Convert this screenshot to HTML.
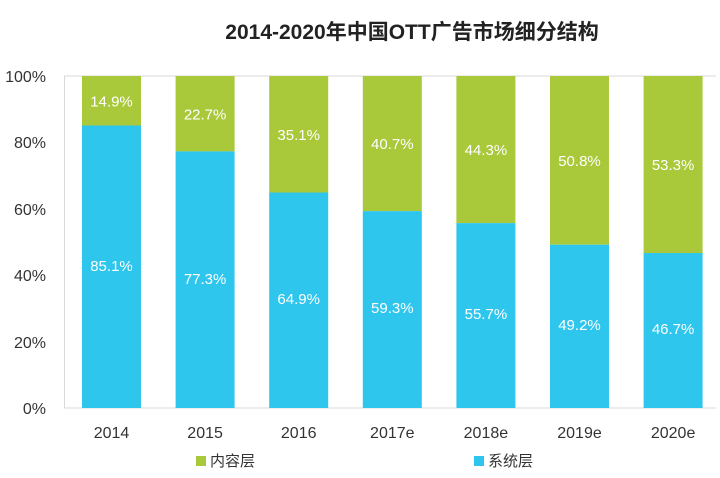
<!DOCTYPE html>
<html><head><meta charset="utf-8"><style>
body{margin:0;background:#fff;}
svg{display:block;font-family:"Liberation Sans","Noto Sans CJK SC",sans-serif;}
</style></head><body>
<svg width="720" height="478" viewBox="0 0 720 478">
<text x="412" y="39" text-anchor="middle" font-size="21" font-weight="bold" fill="#222">2014-2020年中国OTT广告市场细分结构</text>
<line x1="64" y1="76" x2="716" y2="76" stroke="#d9d9d9"/>
<line x1="64" y1="408" x2="716" y2="408" stroke="#d9d9d9"/>
<line x1="64.5" y1="76" x2="64.5" y2="408" stroke="#d9d9d9"/>
<g font-size="16" fill="#333" text-anchor="end">
<text x="46" y="82">100%</text><text x="46" y="148">80%</text><text x="46" y="215">60%</text>
<text x="46" y="281">40%</text><text x="46" y="348">20%</text><text x="46" y="414">0%</text>
</g>
<g>
<rect x="82" y="76" width="59" height="49.5" fill="#a9c83a"/><rect x="82" y="125.5" width="59" height="282.5" fill="#2fc6ee"/>
<rect x="175.6" y="76" width="59" height="75.4" fill="#a9c83a"/><rect x="175.6" y="151.4" width="59" height="256.6" fill="#2fc6ee"/>
<rect x="269.2" y="76" width="59" height="116.5" fill="#a9c83a"/><rect x="269.2" y="192.5" width="59" height="215.5" fill="#2fc6ee"/>
<rect x="362.8" y="76" width="59" height="135.1" fill="#a9c83a"/><rect x="362.8" y="211.1" width="59" height="196.9" fill="#2fc6ee"/>
<rect x="456.4" y="76" width="59" height="147.1" fill="#a9c83a"/><rect x="456.4" y="223.1" width="59" height="184.9" fill="#2fc6ee"/>
<rect x="550" y="76" width="59" height="168.7" fill="#a9c83a"/><rect x="550" y="244.7" width="59" height="163.3" fill="#2fc6ee"/>
<rect x="643.6" y="76" width="59" height="177" fill="#a9c83a"/><rect x="643.6" y="253" width="59" height="155" fill="#2fc6ee"/>
</g>
<g font-size="15" fill="#fff" text-anchor="middle">
<text x="111.5" y="106.5">14.9%</text><text x="111.5" y="271">85.1%</text>
<text x="205.1" y="119.5">22.7%</text><text x="205.1" y="284">77.3%</text>
<text x="298.7" y="140">35.1%</text><text x="298.7" y="304">64.9%</text>
<text x="392.3" y="149">40.7%</text><text x="392.3" y="313">59.3%</text>
<text x="485.9" y="155">44.3%</text><text x="485.9" y="319">55.7%</text>
<text x="579.5" y="166">50.8%</text><text x="579.5" y="330">49.2%</text>
<text x="673.1" y="170">53.3%</text><text x="673.1" y="334">46.7%</text>
</g>
<g font-size="16" fill="#333" text-anchor="middle">
<text x="111.5" y="438">2014</text><text x="205.1" y="438">2015</text><text x="298.7" y="438">2016</text>
<text x="392.3" y="438">2017e</text><text x="485.9" y="438">2018e</text><text x="579.5" y="438">2019e</text><text x="673.1" y="438">2020e</text>
</g>
<rect x="196" y="456" width="10" height="10" fill="#a9c83a"/>
<text x="210" y="466" font-size="15" fill="#333">内容层</text>
<rect x="474" y="456" width="10" height="10" fill="#2fc6ee"/>
<text x="488" y="466" font-size="15" fill="#333">系统层</text>
</svg>
</body></html>
